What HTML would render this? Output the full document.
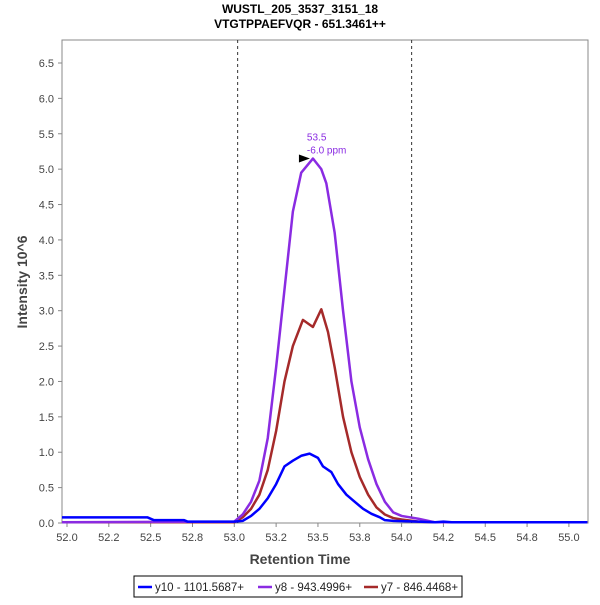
<!DOCTYPE html>
<html><head><meta charset="utf-8"><style>
body{margin:0;background:#fff;font-family:"Liberation Sans",sans-serif}
</style></head><body>
<svg width="600" height="600" xmlns="http://www.w3.org/2000/svg" font-family="Liberation Sans, sans-serif">
<text x="300" y="13" text-anchor="middle" font-size="12" font-weight="bold" fill="#000">WUSTL_205_3537_3151_18</text>
<text x="300" y="28" text-anchor="middle" font-size="12" font-weight="bold" fill="#000">VTGTPPAEFVQR - 651.3461++</text>
<rect x="62" y="40" width="526" height="483" fill="#fff" stroke="#888"/>
<g id="yt"></g>
<g id="xt"></g>
<g id="series"></g>
<text x="300" y="564" text-anchor="middle" font-size="14" font-weight="bold" fill="#444">Retention Time</text>
<text transform="translate(27,282) rotate(-90)" text-anchor="middle" font-size="14" font-weight="bold" fill="#444">Intensity 10^6</text>
<g>
<rect x="134" y="576" width="328" height="21" fill="#fff" stroke="#000"/>
<line x1="138" y1="587" x2="152" y2="587" stroke="#0000ff" stroke-width="2.5"/>
<text x="155" y="591" font-size="11.5" fill="#222">y10 - 1101.5687+</text>
<line x1="258" y1="587" x2="272" y2="587" stroke="#8a2be2" stroke-width="2.5"/>
<text x="275" y="591" font-size="11.5" fill="#222">y8 - 943.4996+</text>
<line x1="364" y1="587" x2="378" y2="587" stroke="#a52a2a" stroke-width="2.5"/>
<text x="381" y="591" font-size="11.5" fill="#222">y7 - 846.4468+</text>
</g>
</svg>
<script>
const xTicks=[52.0,52.25,52.5,52.75,53.0,53.25,53.5,53.75,54.0,54.25,54.5,54.75,55.0];
const xTickLabels=['52.0','52.2','52.5','52.8','53.0','53.2','53.5','53.8','54.0','54.2','54.5','54.8','55.0'];
const yTicks=[0,0.5,1,1.5,2,2.5,3,3.5,4,4.5,5,5.5,6,6.5];
const boundaries=[53.02,54.06];
const y10T=[51.97,52.48,52.52,52.7,52.72,52.95,53.0,53.05,53.1,53.15,53.2,53.25,53.3,53.35,53.4,53.45,53.5,53.53,53.58,53.62,53.67,53.72,53.77,53.82,53.87,53.9,53.95,54.1,54.2,54.25,54.3,55.11];
const y10V=[0.08,0.08,0.04,0.04,0.02,0.02,0.02,0.03,0.1,0.2,0.35,0.55,0.8,0.88,0.95,0.98,0.92,0.8,0.72,0.55,0.4,0.3,0.2,0.13,0.08,0.04,0.03,0.02,0.01,0.02,0.01,0.01];
const y8T=[51.97,53.0,53.05,53.1,53.15,53.2,53.25,53.3,53.35,53.4,53.47,53.52,53.55,53.6,53.65,53.7,53.75,53.8,53.85,53.9,53.95,54.0,54.1,54.2,55.11];
const y8V=[0.01,0.02,0.12,0.3,0.6,1.2,2.2,3.3,4.4,4.95,5.15,5.0,4.8,4.1,3.0,2.0,1.35,0.9,0.55,0.3,0.15,0.1,0.06,0.01,0.01];
const y7T=[51.97,53.0,53.05,53.1,53.15,53.2,53.25,53.3,53.35,53.41,53.47,53.52,53.56,53.6,53.65,53.7,53.75,53.8,53.85,53.9,53.95,54.0,54.1,54.2,55.11];
const y7V=[0.01,0.01,0.08,0.2,0.4,0.75,1.3,2.0,2.5,2.87,2.77,3.02,2.7,2.2,1.5,1.0,0.65,0.4,0.22,0.12,0.07,0.05,0.02,0.01,0.01];
const NS="http://www.w3.org/2000/svg";
const X=v=>67+(v-52)*167.3, Y=v=>523-v*70.77;
function mk(t,a,p){const e=document.createElementNS(NS,t);for(const k in a)e.setAttribute(k,a[k]);p.appendChild(e);return e;}
const yt=document.getElementById('yt'),xt=document.getElementById('xt'),sg=document.getElementById('series');
yTicks.forEach(v=>{
 const l=mk('line',{x1:58,x2:62,y1:Y(v),y2:Y(v),stroke:'#888'},yt);
 
 
 const t=mk('text',{x:54,y:Y(v)+4,'text-anchor':'end','font-size':11,fill:'#444'},yt);t.textContent=v.toFixed(1);
 
 
});
xTicks.forEach((v,i)=>{
 const l=mk('line',{x1:X(v),x2:X(v),y1:523,y2:527,stroke:'#888'},xt);
 
 
 const t=mk('text',{x:X(v),y:541,'text-anchor':'middle','font-size':11,fill:'#444'},xt);t.textContent=xTickLabels[i];
 
 
});
boundaries.forEach(v=>{
 const l=mk('line',{x1:X(v),x2:X(v),y1:40,y2:523,stroke:'#333','stroke-dasharray':'3,3'},sg);
 
 
});
function line(T,V,c,n){
 const p=mk('polyline',{points:T.map((t,i)=>X(t)+','+Y(V[i])).join(' '),fill:'none',stroke:c,'stroke-width':2.5,'stroke-linejoin':'round'},sg);
 
 
}
line(y7T,y7V,'#a52a2a','series-y7');
line(y8T,y8V,'#8a2be2','series-y8');
line(y10T,y10V,'#0000ff','series-y10');
let mi=y8V.indexOf(Math.max(...y8V));const px=X(y8T[mi]),py=Y(y8V[mi]);
const ar=mk('polygon',{points:`${px-3},${py} ${px-14},${py-4} ${px-14},${py+4}`,fill:'#000'},sg);


const a1=mk('text',{x:px-6,y:py-18,'font-size':10,fill:'#8a2be2'},sg);a1.textContent='53.5';


const a2=mk('text',{x:px-6,y:py-5,'font-size':10,fill:'#8a2be2'},sg);a2.textContent='-6.0 ppm';


</script>
</body></html>
